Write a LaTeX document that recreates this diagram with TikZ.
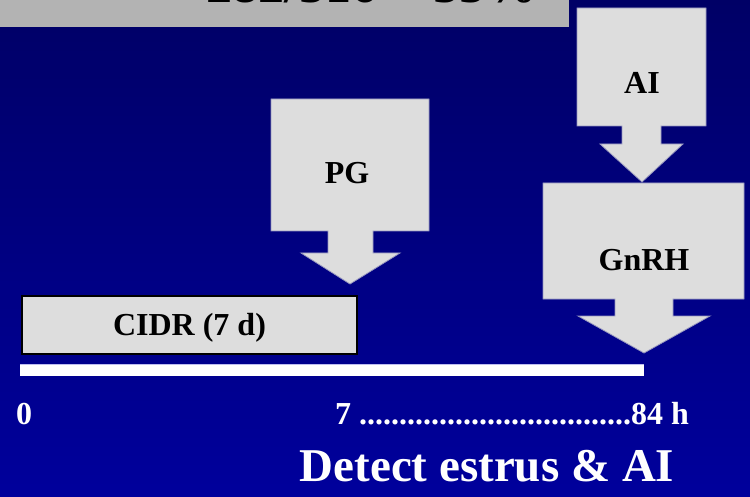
\documentclass[tikz,border=0pt]{standalone}
\usepackage{fontspec}
\setmainfont{Liberation Serif}
\definecolor{bgtop}{RGB}{0,0,102}
\definecolor{bgbot}{RGB}{0,0,156}
\definecolor{panel}{RGB}{221,221,221}
\definecolor{panelline}{RGB}{150,150,190}
\definecolor{titlegray}{RGB}{179,179,179}
\definecolor{barline}{RGB}{190,190,240}
\tikzset{
  callout/.style={fill=panel, draw=panelline, line width=0.8pt, line join=miter},
  lbl/.style={font=\bfseries\fontsize{32}{38}\selectfont, text=black, inner sep=0pt},
  axislbl/.style={font=\bfseries\fontsize{32}{38}\selectfont, text=white, inner sep=0pt},
}
\begin{document}
\begin{tikzpicture}[x=1pt,y=-1pt]
\useasboundingbox (0,0) rectangle (750,497);
% background
\fill[top color=bgtop, bottom color=bgbot] (0,0) rectangle (750,497);

\begin{scope}
\clip (0,0) rectangle (750,497);
% title panel (only its lower edge lies on the page)
\fill[titlegray] (0,-60) rectangle (569,27);
\node[font=\bfseries\fontsize{52}{62}\selectfont, inner sep=0pt, anchor=base] (title) at (372,3) {282/516 = 55\%};
\end{scope}

% PG callout
\draw[callout] (271,99) -- (429,99) -- (429,231) -- (373,231) -- (373,253) -- (400,253)
  -- (350,284) -- (301,253) -- (328,253) -- (328,231) -- (271,231) -- cycle;
\node[lbl] (pg) at (347,173) {PG};

% AI callout
\draw[callout] (577,8) -- (706,8) -- (706,126) -- (661,126) -- (661,144) -- (683,144)
  -- (642,182) -- (600,144) -- (622,144) -- (622,126) -- (577,126) -- cycle;
\node[lbl] (ai) at (642,83) {AI};

% GnRH callout
\draw[callout] (543,183) -- (744,183) -- (744,299) -- (673,299) -- (673,316) -- (710,316)
  -- (644,353) -- (578,316) -- (615,316) -- (615,299) -- (543,299) -- cycle;
\node[lbl] (gnrh) at (644,260) {GnRH};

% CIDR insert period
\node[draw=black, line width=2pt, fill=panel, minimum width=335pt, minimum height=58pt,
      anchor=north west, text height=21pt, text depth=0pt,
      font=\bfseries\fontsize{32}{38}\selectfont] (cidr) at (21,295) {CIDR (7 d)};

% time axis
\fill[white] (20,364) rectangle (644,376);
\draw[barline, line width=1pt] (20,364.5) -- (644,364.5);

\node[axislbl, anchor=base west] (t0) at (16,424) {0};
\node[axislbl, anchor=base east] (t84) at (689,424) {7 ..................................84 h};
\node[font=\bfseries\fontsize{47}{56}\selectfont, text=white, inner sep=0pt, anchor=base] (detect) at (487,481) {Detect estrus \& AI};
\end{tikzpicture}
\end{document}
